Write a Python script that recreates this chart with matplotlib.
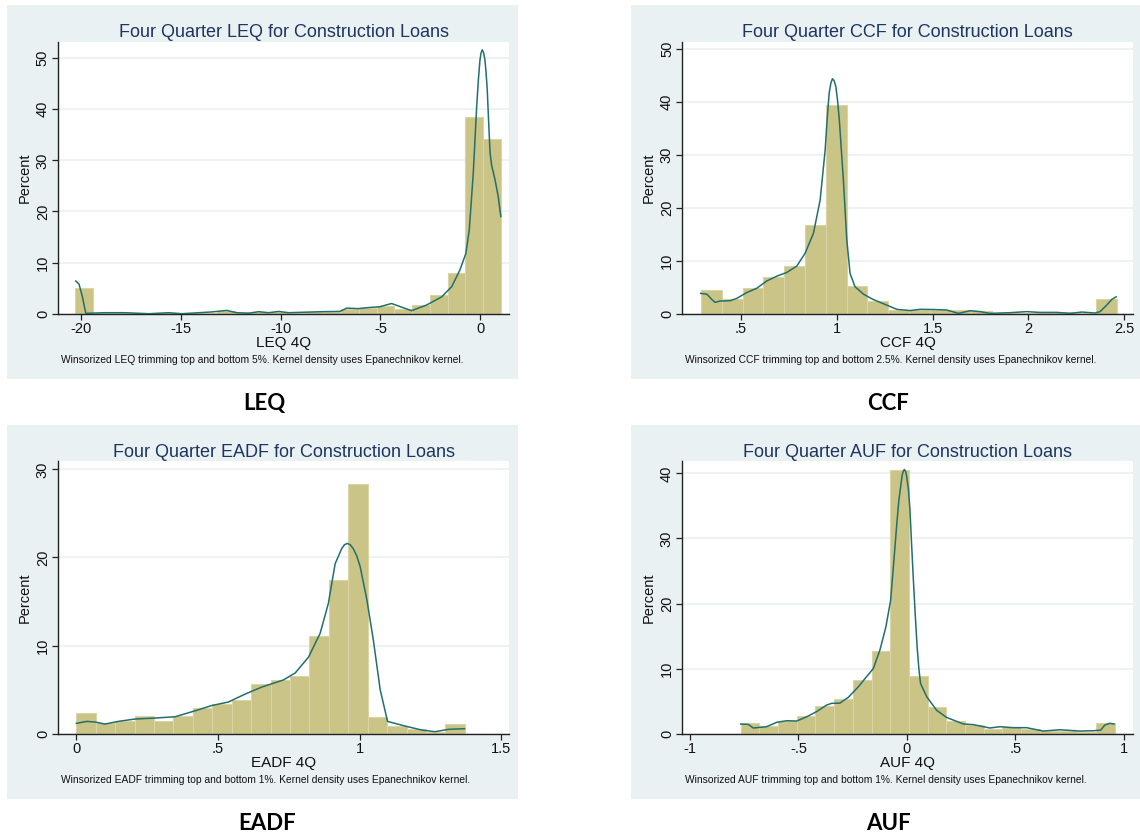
import matplotlib
matplotlib.use("Agg")
import matplotlib.pyplot as plt
import numpy as np
from matplotlib.patches import Rectangle

plt.rcParams['font.family'] = ['Liberation Sans', 'DejaVu Sans']

# ---- LEQ ----
leq_bin_start = -20.3
leq_bin_width = 0.889
leq_pct = [5.0, 0.15, 0.15, 0.05, 0.05, 0.15, 0.1, 0.15, 0.5, 0.4, 0.25, 0.3,
           0.2, 0.3, 0.4, 1.0, 1.1, 1.6, 1.0, 1.8, 3.7, 8.0, 38.5, 34.2]
leq_kx = [-20.26, -20.1, -19.93, -19.76, -18.8, -17.8, -16.6, -15.6, -14.95, -14.1,
          -13.45, -12.7, -12.2, -11.6, -11.1, -10.6, -10.1, -9.6, -8.78, -7.94,
          -7.03, -6.69, -6.11, -5.61, -5.03, -4.44, -4.02, -3.44, -2.69, -1.93,
          -1.43, -1.02, -0.72, -0.55, -0.35, -0.18, -0.09, -0.015, 0.04, 0.10,
          0.17, 0.235, 0.29, 0.35, 0.42, 0.49, 0.57, 0.74, 0.90, 1.03]
leq_ky = [6.4, 5.8, 3.3, 0.08, 0.2, 0.2, 0.0, 0.2, 0.0, 0.2,
          0.35, 0.65, 0.2, 0.1, 0.4, 0.2, 0.45, 0.2, 0.3, 0.4,
          0.45, 1.1, 1.0, 1.2, 1.37, 2.0, 1.4, 0.6, 1.7, 3.3,
          5.3, 8.55, 11.8, 16.4, 27.5, 40.5, 46.0, 49.6, 51.0, 51.6,
          51.0, 49.6, 47.2, 43.8, 37.5, 31.5, 29.0, 26.2, 22.9, 19.0]
leq_xticks = [-20, -15, -10, -5, 0]
leq_xlabels = ["-20", "-15", "-10", "-5", "0"]
leq_yticks = [0, 10, 20, 30, 40, 50]

# ---- CCF ----
ccf_bin_start = 0.293
ccf_bin_width = 0.1084
ccf_pct = [4.5, 2.7, 4.8, 6.9, 9.0, 16.7, 39.4, 5.2, 2.5, 0.8,
           0.8, 0.7, 0.7, 0.5, 0.2, 0.2, 0.25, 0.25, 0.15, 2.8]
ccf_kx = [0.291, 0.323, 0.349, 0.366, 0.392, 0.444, 0.479, 0.531, 0.583, 0.636,
          0.688, 0.74, 0.792, 0.835, 0.879, 0.914, 0.94, 0.95, 0.961, 0.97,
          0.978, 0.987, 0.996, 1.005, 1.014, 1.035, 1.053, 1.07, 1.096, 1.14,
          1.19, 1.26, 1.314, 1.383, 1.435, 1.505, 1.574, 1.635, 1.696, 1.748,
          1.80, 1.905, 1.992, 2.06, 2.148, 2.218, 2.279, 2.348, 2.374, 2.409,
          2.435, 2.458]
ccf_ky = [3.85, 3.7, 2.7, 2.15, 2.4, 2.46, 2.9, 4.0, 4.8, 6.2,
          7.1, 7.8, 9.0, 11.4, 15.2, 21.5, 30.9, 36.5, 41.7, 43.6,
          44.4, 44.0, 42.9, 40.2, 36.6, 25.3, 13.9, 7.6, 5.1, 3.7,
          2.7, 1.65, 0.83, 0.6, 0.83, 0.8, 0.7, 0.07, 0.57, 0.4,
          0.07, 0.2, 0.4, 0.25, 0.25, 0.07, 0.32, 0.13, 0.4, 1.65,
          2.7, 3.2]
ccf_xticks = [0.5, 1, 1.5, 2, 2.5]
ccf_xlabels = [".5", "1", "1.5", "2", "2.5"]
ccf_yticks = [0, 10, 20, 30, 40, 50]

# ---- EADF ----
eadf_bin_start = 0.0
eadf_bin_width = 0.0686
eadf_pct = [2.3, 1.2, 1.4, 2.0, 1.4, 2.0, 2.9, 3.4, 3.8, 5.6,
            6.1, 6.6, 11.1, 17.5, 28.3, 1.9, 0.9, 0.5, 0.2, 1.1]
eadf_kx = [0.0, 0.037, 0.066, 0.101, 0.148, 0.207, 0.278, 0.349, 0.419, 0.478,
           0.537, 0.596, 0.655, 0.731, 0.773, 0.82, 0.861, 0.89, 0.914, 0.937,
           0.947, 0.957, 0.967, 0.978, 0.99, 1.002, 1.026, 1.049, 1.073, 1.099,
           1.161, 1.22, 1.267, 1.314, 1.371]
eadf_ky = [1.18, 1.4, 1.33, 1.1, 1.4, 1.67, 1.78, 1.93, 2.6, 3.2,
           3.6, 4.5, 5.3, 6.1, 6.9, 8.7, 11.4, 14.8, 19.3, 21.0,
           21.45, 21.6, 21.45, 21.0, 20.2, 19.0, 15.2, 10.6, 5.0, 1.4,
           0.87, 0.42, 0.23, 0.5, 0.57]
eadf_xticks = [0, 0.5, 1, 1.5]
eadf_xlabels = ["0", ".5", "1", "1.5"]
eadf_yticks = [0, 10, 20, 30]

# ---- AUF ----
auf_bin_start = -0.7665
auf_bin_width = 0.0862
auf_pct = [1.6, 1.2, 1.9, 2.7, 4.3, 5.3, 8.2, 12.7, 40.5, 8.9,
           4.1, 1.9, 1.3, 0.8, 1.0, 0.7, 0.4, 0.4, 0.3, 1.6]
auf_kx = [-0.766, -0.731, -0.708, -0.647, -0.60, -0.554, -0.508, -0.462, -0.416, -0.37,
          -0.347, -0.309, -0.27, -0.224, -0.186, -0.155, -0.124, -0.097, -0.075, -0.055,
          -0.046, -0.037, -0.022, -0.017, -0.012, -0.006, -0.001, 0.007, 0.014, 0.021,
          0.029, 0.038, 0.047, 0.055, 0.063, 0.091, 0.137, 0.183, 0.26, 0.306,
          0.382, 0.429, 0.49, 0.552, 0.628, 0.705, 0.797, 0.859, 0.893, 0.912,
          0.935, 0.954]
auf_ky = [1.49, 1.44, 0.88, 1.08, 1.75, 2.0, 1.95, 2.6, 3.4, 4.4,
          4.67, 4.7, 5.6, 7.2, 8.76, 10.0, 12.9, 16.4, 20.5, 28.7,
          32.5, 35.9, 39.7, 40.3, 40.6, 40.3, 39.5, 37.5, 34.4, 29.5,
          24.1, 18.5, 13.4, 10.0, 7.7, 5.7, 3.6, 2.5, 1.5, 1.4,
          0.88, 1.08, 0.93, 0.93, 0.41, 0.61, 0.41, 0.46, 0.56, 1.34,
          1.6, 1.5]
auf_xticks = [-1, -0.5, 0, 0.5, 1]
auf_xlabels = ["-1", "-.5", "0", ".5", "1"]
auf_yticks = [0, 10, 20, 30, 40]

BG = "#eaf1f3"
BAR = "#cbc487"
BAR_EDGE = "#dad5a6"
LINE = "#236f6b"
TITLE = "#1e3560"

fig = plt.figure(figsize=(11.4, 8.4), dpi=100)
fig.patch.set_facecolor("white")

panels = [
    # name, bin start, width, pct, kx, ky, xticks, xlabels, yticks, xlim, ylim, trim, axes rect, bg rect, label pos
    ("LEQ", leq_bin_start, leq_bin_width, leq_pct, leq_kx, leq_ky, leq_xticks, leq_xlabels,
     leq_yticks, (-21.14, 1.44), (0, 53.2), "5%",
     [0.0511, 0.6265, 0.3954, 0.3239], [0.0061, 0.5488, 0.4485, 0.4452], (0.232, 0.520)),
    ("CCF", ccf_bin_start, ccf_bin_width, ccf_pct, ccf_kx, ccf_ky, ccf_xticks, ccf_xlabels,
     ccf_yticks, (0.195, 2.547), (0, 51.4), "2.5%",
     [0.5985, 0.6265, 0.3956, 0.3239], [0.5535, 0.5488, 0.4465, 0.4452], (0.779, 0.520)),
    ("EADF", eadf_bin_start, eadf_bin_width, eadf_pct, eadf_kx, eadf_ky, eadf_xticks, eadf_xlabels,
     eadf_yticks, (-0.064, 1.528), (0, 30.95), "1%",
     [0.0511, 0.1265, 0.3954, 0.3247], [0.0061, 0.0488, 0.4485, 0.4452], (0.234, 0.020)),
    ("AUF", auf_bin_start, auf_bin_width, auf_pct, auf_kx, auf_ky, auf_xticks, auf_xlabels,
     auf_yticks, (-1.035, 1.043), (0, 41.9), "1%",
     [0.5985, 0.1265, 0.3956, 0.3247], [0.5535, 0.0488, 0.4465, 0.4452], (0.779, 0.020)),
]

for (name, b0, bw, pct, kx, ky, xt, xl, yt, xlim, ylim, trim, rect, bg, lab) in panels:
    fig.add_artist(Rectangle((bg[0], bg[1]), bg[2], bg[3], transform=fig.transFigure,
                             facecolor=BG, edgecolor="none", zorder=-10))
    ax = fig.add_axes(rect)
    ax.set_facecolor("white")
    edges = b0 + bw * np.arange(len(pct))
    ax.bar(edges, pct, width=bw, align="edge", color=BAR, edgecolor=BAR_EDGE,
           linewidth=0.8, zorder=2)
    ax.plot(kx, ky, color=LINE, linewidth=1.1, zorder=3)
    ax.set_xlim(*xlim)
    ax.set_ylim(*ylim)
    ax.set_xticks(xt)
    ax.set_xticklabels(xl)
    ax.set_yticks(yt)
    ax.set_yticklabels([str(v) for v in yt], rotation=90, va="center")
    for v in yt:
        ax.axhline(v, color=BG, linewidth=1.2, zorder=1)
    for s in ["top", "right"]:
        ax.spines[s].set_visible(False)
    for s in ["left", "bottom"]:
        ax.spines[s].set_color("#222222")
        ax.spines[s].set_linewidth(1.0)
    ax.tick_params(axis="both", length=4, width=0.9, color="#222222",
                   labelsize=10.5, labelcolor="#111111", pad=2)
    ax.set_ylabel("Percent", fontsize=10.5, labelpad=3, color="#111111")
    ax.annotate(f"{name} 4Q", xy=(0.5, 0), xycoords="axes fraction", xytext=(0, -21),
                textcoords="offset points", ha="center", va="center", fontsize=11,
                color="#111111")
    ax.annotate(f"Winsorized {name} trimming top and bottom {trim}. "
                "Kernel density uses Epanechnikov kernel.",
                xy=(0, 0), xycoords="axes fraction", xytext=(2, -33.5),
                textcoords="offset points", ha="left", va="center", fontsize=7.4,
                color="#111111")
    ax.set_title(f"Four Quarter {name} for Construction Loans", fontsize=13,
                 color=TITLE, pad=3)
    fig.text(lab[0], lab[1], name, fontsize=16, fontweight="bold", family="Lato",
             ha="center", va="center", color="black")

fig.savefig("out.png", dpi=100, facecolor="white")
